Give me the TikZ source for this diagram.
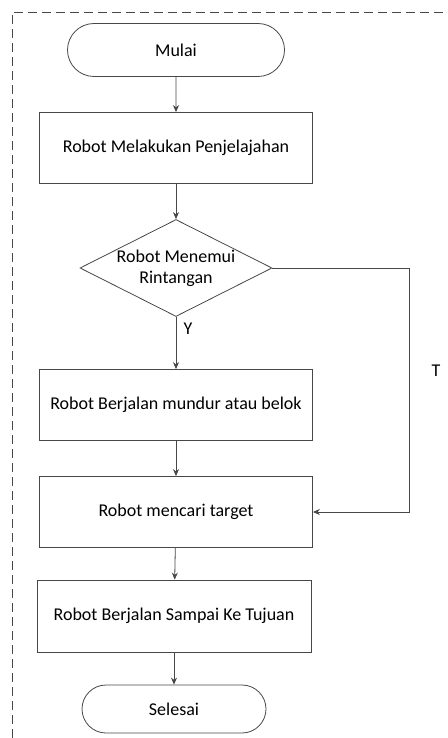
\documentclass[tikz,border=0pt]{standalone}
\usepackage{fontspec}
\setmainfont{Carlito}
\usetikzlibrary{arrows, arrows.meta, shapes.geometric, shapes.misc}

\begin{document}
\begin{tikzpicture}[x=1pt,y=-1pt,>={Stealth[length=7pt,width=6pt]},font=\fontsize{18}{21}\selectfont,line width=0.8pt,
    terminal/.style={draw=black!72,rounded rectangle,minimum width=184pt,minimum height=48pt,inner sep=0pt},
    proses/.style={draw=black!72,rectangle,minimum width=273pt,minimum height=71pt,inner sep=0pt},
    keputusan/.style={draw=black!72,diamond,aspect=2,inner sep=0pt,minimum width=192pt,minimum height=97pt,align=center}]
    \useasboundingbox (0,0) rectangle (447,738);
    \draw[black!72,dashed,dash pattern=on 9pt off 5pt] (12,738) -- (12,12) -- (447,12);

    \node[terminal,minimum width=217pt,minimum height=53pt] (mulai) at (176,50) {Mulai};
    \node[proses] (jelajah) at (176,148) {Robot Melakukan Penjelajahan};
    \node[keputusan] (rintang) at (176,268) {Robot Menemui\\Rintangan};
    \node[proses] (mundur) at (176,405) {Robot Berjalan mundur atau belok};
    \node[proses] (cari) at (176,512) {Robot mencari target};
    \node[proses,minimum width=274pt,minimum height=72pt] (sampai) at (174,616) {Robot Berjalan Sampai Ke Tujuan};
    \node[terminal] (selesai) at (174,709) {Selesai};
    \coordinate (jalurT) at (409,512);
    \node (labelT) at (436,371) {T};

    \tikzset{panah/.style={->,draw=black!72}}
    \path (mulai) edge [panah] (jelajah);
    \path (jelajah) edge [panah] (rintang);
    \path (rintang) edge [panah] node[right=4pt,pos=0.22,text=black] {Y} (mundur);
    \path (mundur) edge [panah] (cari);
    \path (cari) edge [panah] (sampai);
    \path (sampai) edge [panah] (selesai);
    \draw[panah] (rintang.east) -| (jalurT) -- (cari.east);

\end{tikzpicture}
\end{document}
